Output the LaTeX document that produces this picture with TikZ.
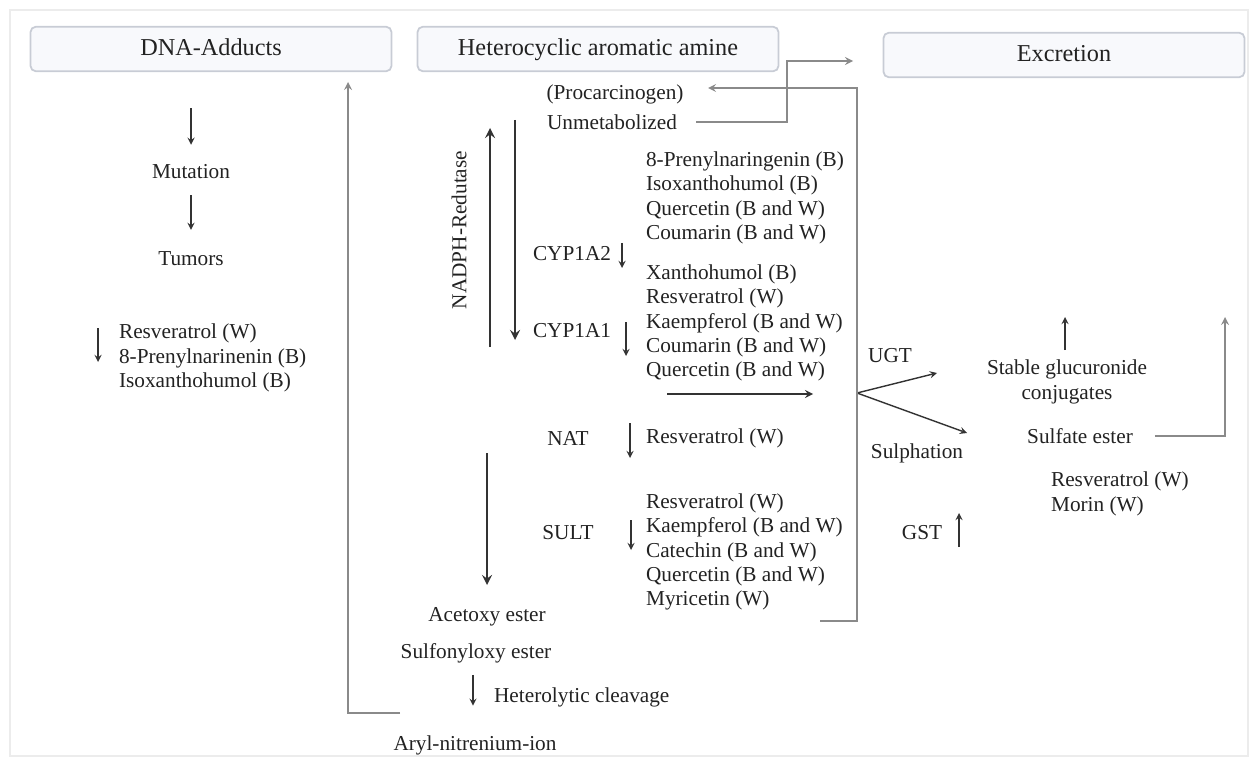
\documentclass[tikz,border=0pt]{standalone}
\usepackage{fontspec}
\setmainfont{Liberation Serif}
\usetikzlibrary{arrows, positioning}
\definecolor{txtcol}{HTML}{222222}
\definecolor{boxline}{HTML}{C8CCD5}
\definecolor{boxfill}{HTML}{F8F9FC}
\definecolor{linecol}{HTML}{8A8A8A}
\definecolor{arrcol}{HTML}{333333}
\tikzstyle{header} = [rectangle, rounded corners=3pt, minimum width=7.22cm, minimum height=0.89cm, text centered, text height=2.1ex, text depth=0.5ex, draw=boxline, line width=1pt, fill=boxfill, text=txtcol, font=\fontsize{13.8}{16}\selectfont]
\tikzstyle{txt} = [inner sep=1pt, text=txtcol, font=\fontsize{12.1}{13.9}\selectfont]
\tikzstyle{list} = [txt, align=left, anchor=west]
\tikzstyle{arrow} = [arrcol, line width=0.8pt, ->, >=stealth]
\tikzstyle{bigarrow} = [arrcol, line width=1.5pt, ->, >=stealth]
\tikzstyle{link} = [linecol, line width=1pt]

\begin{document}
\begin{tikzpicture}[x=0.02cm, y=-0.02cm]
		\useasboundingbox (0,0) rectangle (1251,760);
		\draw [gray!15, line width=1.2pt] (10,10) rectangle (1248,756);
		% headers
		\node (dna) [header] at (211,49) {DNA-Adducts};
		\node (hca) [header] at (598,49) {Heterocyclic aromatic amine};
		\node (excr) [header] at (1064,55) {Excretion};
		% left column
		\node (mut) [txt] at (191,172) {Mutation};
		\node (tum) [txt] at (191,259) {Tumors};
		\node (inhib) [list] at (117,358) {Resveratrol (W)\\8-Prenylnarinenin (B)\\Isoxanthohumol (B)};
		\draw [arrow, shorten <=0.72cm, shorten >=0.36cm] (dna.south -| mut) -- (mut);
		\draw [arrow, shorten <=0.28cm, shorten >=0.4cm] (mut) -- (tum);
		% middle column
		\node (proc) [txt] at (615,94) {(Procarcinogen)};
		\node (unmet) [txt] at (612,122) {Unmetabolized};
		\node (nadph) [txt, rotate=90] at (459,230) {NADPH-Redutase};
		\node (cypa2) [txt] at (572,254) {CYP1A2};
		\node (cypa1) [txt] at (572,331) {CYP1A1};
		\node (nat) [txt] at (568,438) {NAT};
		\node (sult) [txt] at (568,533) {SULT};
		\node (inda2) [list] at (644,198) {8-Prenylnaringenin (B)\\Isoxanthohumol (B)\\Quercetin (B and W)\\Coumarin (B and W)};
		\node (inda1) [list] at (644,323) {Xanthohumol (B)\\Resveratrol (W)\\Kaempferol (B and W)\\Coumarin (B and W)\\Quercetin (B and W)};
		\node (innat) [list] at (644,438) {Resveratrol (W)};
		\node (insult) [list] at (644,552) {Resveratrol (W)\\Kaempferol (B and W)\\Catechin (B and W)\\Quercetin (B and W)\\Myricetin (W)};
		\node (acet) [txt] at (487,617) {Acetoxy ester};
		\node (sulfo) [txt] at (476,653) {Sulfonyloxy ester};
		\node (cleav) [txt, anchor=west] at (492,697) {Heterolytic cleavage};
		\node (aryl) [txt] at (475,745) {Aryl-nitrenium-ion};
		% right column
		\node (ugt) [txt] at (890,356) {UGT};
		\node (sulph) [txt] at (917,453) {Sulphation};
		\node (gst) [txt] at (922,533) {GST};
		\node (gluc) [txt, align=center] at (1067,382) {Stable glucuronide\\conjugates};
		\node (sulfe) [txt] at (1080,436) {Sulfate ester};
		\node (inex) [list] at (1049,494) {Resveratrol (W)\\Morin (W)};
		% coordinates
		\coordinate (branch) at (857,393);
		\coordinate (ugtend) at (937,373);
		\coordinate (sulend) at (967,433);
		% up and down marks
		\foreach \x/\a/\b in {98/328/362, 622/243/268, 626/322/356, 630/423/458, 631/520/550, 1065/350/317, 959/547/513}
			\draw [arrow] (\x,\a) -- (\x,\b);
		% enzyme arrows
		\draw [bigarrow] (490,347) -- (490,128);
		\draw [bigarrow] (515,120) -- (515,340);
		\draw [bigarrow] (487,453) -- (487,585);
		\draw [arrow, line width=1pt] (667,394) -- (813,394);
		\draw [arrow, shorten <=0.2cm, shorten >=0.55cm] (sulfo.south -| 473,0) -- (aryl.north -| 473,0);
		\draw [arrow] (branch) -- (ugtend);
		\draw [arrow] (branch) -- (sulend);
		% return and excretion lines
		\draw [link, ->, >=stealth] (820,621) -- (857,621) -- (857,88) -- (708,88);
		\draw [link, ->, >=stealth, shorten <=0.34cm] (unmet.east) -| (787,61) -- (853,61);
		\draw [link, ->, >=stealth, shorten <=0.4cm] (sulfe.east) -| (1225,317);
		\draw [link, ->, >=stealth] (400,713) -- (348,713) -- (348,82);
	\end{tikzpicture}
\end{document}
